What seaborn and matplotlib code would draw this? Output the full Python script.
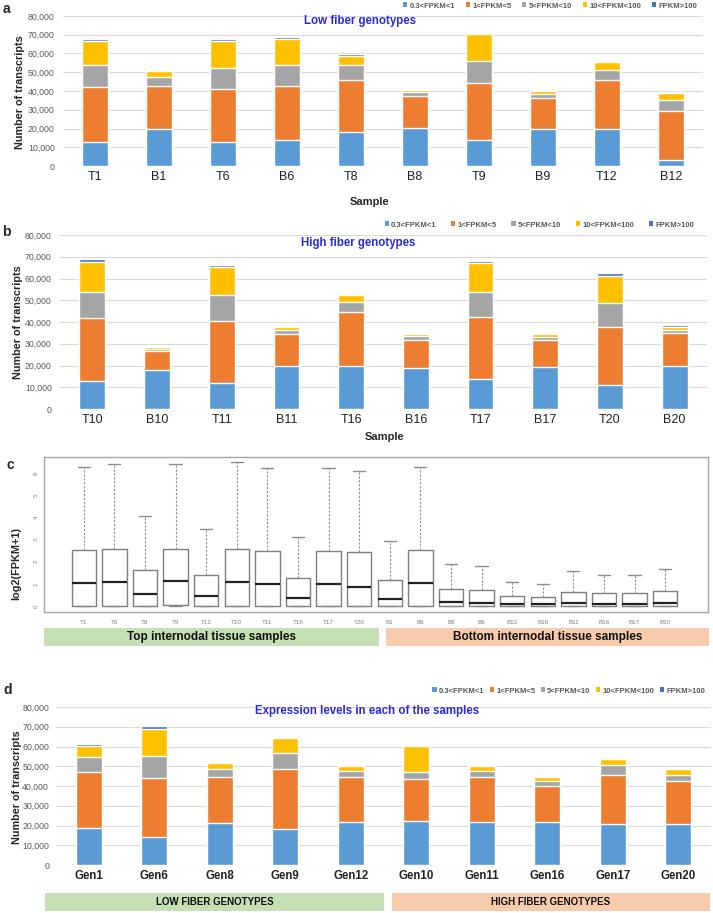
import matplotlib
matplotlib.use("Agg")
import matplotlib.pyplot as plt
import numpy as np
import pandas as pd
import seaborn as sns
from matplotlib.patches import Patch
from matplotlib.ticker import FuncFormatter

# --- data -----------------------------------------------------------------
categories = ["0.3<FPKM<1", "1<FPKM<5", "5<FPKM<10", "10<FPKM<100", "FPKM>100"]
colors = ["#5B9BD5", "#ED7D31", "#A5A5A5", "#FFC000", "#4472C4"]

samples_a = ["T1", "B1", "T6", "B6", "T8", "B8", "T9", "B9", "T12", "B12"]
fpkm_a = [
    [13000, 29000, 11600, 13300, 900],
    [19500, 23400, 4400, 3200, 400],
    [12600, 28300, 11600, 14100, 1100],
    [13900, 28600, 11250, 13750, 1100],
    [18400, 27700, 7500, 5300, 600],
    [20400, 16700, 2500, 1100, 400],
    [14000, 30100, 12000, 14100, 1000],
    [19800, 16300, 2100, 1600, 400],
    [19900, 26200, 5300, 4300, 550],
    [3300, 26200, 5500, 3900, 700],
]

samples_b = ["T10", "B10", "T11", "B11", "T16", "B16", "T17", "B17", "T20", "B20"]
fpkm_b = [
    [13000, 28900, 11900, 13900, 1300],
    [17900, 8900, 900, 600, 400],
    [11800, 28700, 11900, 13000, 800],
    [20000, 14400, 1800, 1400, 300],
    [20000, 24600, 4800, 3000, 600],
    [19000, 12800, 1700, 1100, 400],
    [13800, 28600, 11300, 13300, 900],
    [19400, 12300, 1500, 1100, 400],
    [11000, 26600, 11200, 12500, 1200],
    [20000, 15000, 1500, 1400, 500],
]

samples_d = ["Gen1", "Gen6", "Gen8", "Gen9", "Gen12", "Gen10", "Gen11", "Gen16", "Gen17", "Gen20"]
fpkm_d = [
    [18700, 28400, 7600, 5700, 700],
    [14200, 29700, 11500, 13300, 1500],
    [21400, 23300, 3900, 2900, 300],
    [18400, 30000, 8500, 7600, 500],
    [21900, 22500, 3200, 2400, 500],
    [22100, 21600, 3200, 13400, 500],
    [21900, 22700, 3000, 2400, 500],
    [21600, 18400, 2700, 1900, 300],
    [20800, 24800, 4900, 3200, 500],
    [20900, 21500, 3300, 2900, 300],
]

# boxplot summary, log2(FPKM+1)
box_samples = ["T1", "T6", "T8", "T9", "T12", "T10", "T11", "T16", "T17", "T20",
               "B1", "B6", "B8", "B9", "B12", "B10", "B11", "B16", "B17", "B20"]
box_low = [0, 0, 0, 0, 0, 0, 0, 0, 0, 0, 0, 0, 0, 0, 0, 0, 0, 0, 0, 0]
box_q1 = [0, 0, 0, 0.05, 0, 0, 0, 0, 0, 0, 0, 0, 0, 0, 0, 0, 0, 0, 0, 0]
box_med = [1.02, 1.07, 0.56, 1.13, 0.45, 1.10, 1.01, 0.36, 1.01, 0.87,
           0.32, 1.02, 0.17, 0.14, 0.08, 0.08, 0.12, 0.09, 0.11, 0.12]
box_q3 = [2.51, 2.56, 1.63, 2.56, 1.39, 2.59, 2.48, 1.25, 2.47, 2.42,
          1.16, 2.51, 0.75, 0.71, 0.44, 0.39, 0.62, 0.57, 0.57, 0.66]
box_high = [6.27, 6.40, 4.08, 6.40, 3.48, 6.49, 6.23, 3.10, 6.23, 6.08,
            2.94, 6.27, 1.88, 1.79, 1.07, 1.01, 1.58, 1.40, 1.39, 1.67]

# --- figure ---------------------------------------------------------------
sns.set_style("white")
plt.rcParams["font.family"] = ["Liberation Sans", "DejaVu Sans"]

W, H = 713, 913
fig = plt.figure(figsize=(W / 100, H / 100), dpi=100)


def px_axes(x0, y0, x1, y1):
    return fig.add_axes([x0 / W, 1 - y1 / H, (x1 - x0) / W, (y1 - y0) / H])


def ftext(x, y, s, **kw):
    fig.text(x / W, 1 - y / H, s, **kw)


def stacked_panel(box, samples, fpkm, tick_weight="normal", tick_size=9, ypad=6):
    ax = px_axes(*box)
    cum = np.array(fpkm).cumsum(axis=1)
    df = pd.DataFrame(cum, columns=categories)
    df["sample"] = samples
    for i in reversed(range(len(categories))):
        sns.barplot(data=df, x="sample", y=categories[i], order=samples, color=colors[i],
                    width=0.4, saturation=1, errorbar=None, ax=ax, zorder=3)
    ax.set_xlim(-0.5, len(samples) - 0.5)
    ax.set_ylim(0, 80000)
    ax.set_yticks(range(0, 80001, 10000))
    ax.yaxis.set_major_formatter(FuncFormatter(lambda v, p: f"{int(v):,}"))
    ax.grid(axis="y", color="#D9D9D9", linewidth=0.8, zorder=0)
    ax.set_axisbelow(True)
    for s in ax.spines.values():
        s.set_visible(False)
    ax.set_xlabel("")
    ax.set_ylabel("")
    ax.tick_params(axis="both", length=0)
    ax.tick_params(axis="y", pad=ypad)
    for lab in ax.get_yticklabels():
        lab.set_fontsize(6.3)
        lab.set_color("#595959")
    for lab in ax.get_xticklabels():
        lab.set_fontsize(tick_size)
        lab.set_fontweight(tick_weight)
        lab.set_color("#222222")
    return ax


def panel_legend(x_right, y, spacing):
    handles = [Patch(facecolor=c, edgecolor="none") for c in colors]
    leg = fig.legend(handles, categories, ncol=5, loc="center right",
                     bbox_to_anchor=(x_right / W, 1 - y / H), frameon=False,
                     prop={"size": 5.5, "weight": "bold"}, handlelength=0.55,
                     handleheight=0.55, handletextpad=0.3, columnspacing=spacing,
                     borderaxespad=0, borderpad=0)
    for t in leg.get_texts():
        t.set_color("#595959")


def band(box, color, text, size):
    bax = px_axes(*box)
    bax.set_facecolor(color)
    bax.set_xticks([])
    bax.set_yticks([])
    for s in bax.spines.values():
        s.set_visible(False)
    bax.text(0.5, 0.5, text, transform=bax.transAxes, ha="center", va="center",
             fontsize=size, fontweight="bold", color="#111111")


title_kw = dict(color="#2B2BD9", fontsize=8.3, fontweight="bold", ha="center", va="center")
ylab_kw = dict(fontsize=7.8, fontweight="bold", rotation=90, ha="center", va="center")
letter_kw = dict(fontsize=10, fontweight="bold", ha="center", va="center")

# panel a
ax_a = stacked_panel((63, 16, 703, 166), samples_a, fpkm_a)
panel_legend(697, 6, 1.4)
ftext(360, 21, "Low fiber genotypes", **title_kw)
ftext(20, 92, "Number of transcripts", **ylab_kw)
ftext(370, 202, "Sample", fontsize=8, fontweight="bold", ha="center", va="center")
ftext(6, 9, "a", **letter_kw)

# panel b
ax_b = stacked_panel((60, 235, 707, 409), samples_b, fpkm_b)
panel_legend(694, 225, 1.9)
ftext(358, 243, "High fiber genotypes", **title_kw)
ftext(18, 322, "Number of transcripts", **ylab_kw)
ftext(385, 437, "Sample", fontsize=8, fontweight="bold", ha="center", va="center")
ftext(6, 232, "b", **letter_kw)

# panel c
ax_c = px_axes(44, 457, 708, 612)
stats = [dict(label=s, whislo=lo, q1=a, med=m, q3=b, whishi=hi)
         for s, lo, a, m, b, hi in zip(box_samples, box_low, box_q1, box_med, box_q3, box_high)]
ax_c.bxp(stats, positions=range(len(stats)), widths=0.8, showfliers=False,
         boxprops=dict(color="#7F7F7F", linewidth=1.0),
         whiskerprops=dict(color="#8C8C8C", linewidth=0.8, linestyle=(0, (2, 1.5))),
         capprops=dict(color="#8C8C8C", linewidth=1.0),
         medianprops=dict(color="#222222", linewidth=1.6))
ax_c.set_xlim(-1.3, 20.4)
ax_c.set_ylim(-0.27, 6.72)
ax_c.set_yticks(range(7))
ax_c.set_xticks(range(len(box_samples)))
ax_c.set_xticklabels(box_samples)
for s in ax_c.spines.values():
    s.set_color("#A6A6A6")
    s.set_linewidth(1.0)
ax_c.tick_params(axis="both", length=2, width=0.6, color="#A6A6A6", labelsize=4.5,
                 labelcolor="#7F7F7F", pad=2)
for lab in ax_c.get_yticklabels():
    lab.set_rotation(90)
    lab.set_va("center")
ax_c.tick_params(axis="x", pad=4)
ftext(16, 564, "log2(FPKM+1)", **ylab_kw)
ftext(10, 465, "c", **letter_kw)

band((44, 628, 379, 646), "#C5E0B4", "Top internodal tissue samples", 8.5)
band((386, 628, 709, 646), "#F8CBAD", "Bottom internodal tissue samples", 8.5)

# panel d
ax_d = stacked_panel((56, 707, 711, 865), samples_d, fpkm_d, tick_weight="bold",
                     tick_size=8.3, ypad=5)
panel_legend(705, 691, 0.7)
ftext(367, 711, "Expression levels in each of the samples", **title_kw)
ftext(17, 787, "Number of transcripts", **ylab_kw)
ftext(8, 690, "d", **letter_kw)

band((45, 893, 384, 911), "#C5E0B4", "LOW FIBER GENOTYPES", 7)
band((392, 893, 710, 911), "#F8CBAD", "HIGH FIBER GENOTYPES", 7)

fig.savefig("out.png", dpi=100)
